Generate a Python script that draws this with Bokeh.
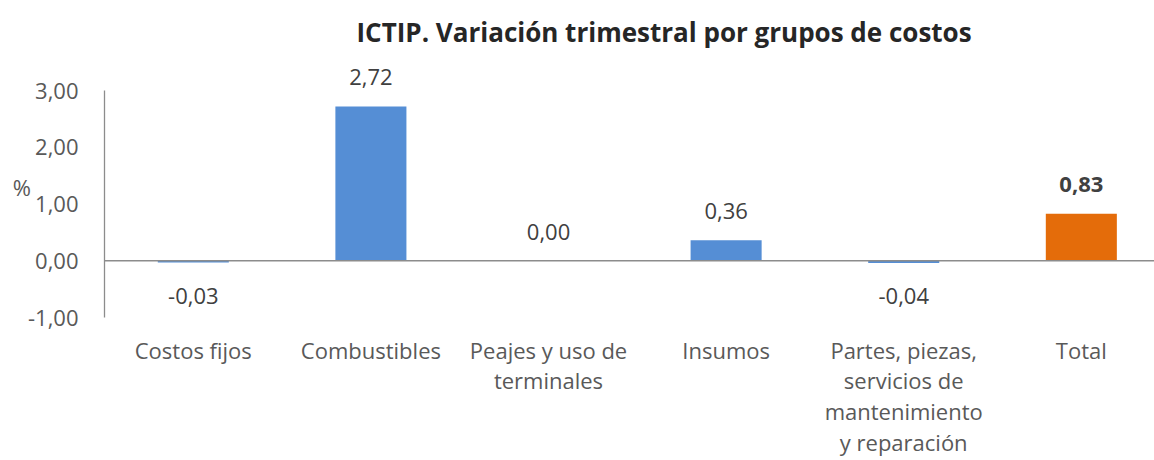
from bokeh.plotting import figure
from bokeh.models import ColumnDataSource, Span, FixedTicker
from bokeh.core.properties import value
from bokeh.embed import file_html
from bokeh.resources import INLINE

categories = ["Costos fijos", "Combustibles", "Peajes y uso de\nterminales", "Insumos",
              "Partes, piezas,\nservicios de\nmantenimiento\ny reparación", "Total"]
values = [-0.03, 2.72, 0.00, 0.36, -0.04, 0.83]
y_ticks = [-1, 0, 1, 2, 3]
y_tick_labels = ["-1,00", "0,00", "1,00", "2,00", "3,00"]

FONT = "Open Sans"
FS = "22px"
BLUE = "#558ED5"
ORANGE = "#E46C0A"

xs = list(range(len(categories)))
colors = [ORANGE if c == "Total" else BLUE for c in categories]
labels = [("%.2f" % v).replace(".", ",") for v in values]
pos = [v >= 0 for v in values]

p = figure(width=1154, height=460, output_backend="svg", toolbar_location=None,
           x_range=(-0.5, 5.412), y_range=(-1, 3.6),
           min_border_left=104, min_border_right=0, min_border_top=56, min_border_bottom=142)
p.outline_line_color = None
p.grid.grid_line_color = None
p.background_fill_color = "white"

p.title.text = "ICTIP. Variación trimestral por grupos de costos"
p.title.text_font = FONT
p.title.text_font_size = "26px"
p.title.text_font_style = "bold"
p.title.text_color = "#262626"
p.title.align = "left"
p.title.offset = 252
p.title.standoff = 13

src = ColumnDataSource(dict(x=xs, top=values, color=colors))
p.vbar(x="x", top="top", bottom=0, width=0.4, fill_color="color", line_color=None, source=src)

p.add_layout(Span(location=0, dimension="width", line_color="#8C8C8C", line_width=1.3))

# data labels
sp = ColumnDataSource(dict(x=[x for x, k in zip(xs, pos) if k],
                           y=[v for v, k in zip(values, pos) if k],
                           t=[l for l, k in zip(labels, pos) if k],
                           st=["bold" if categories[i] == "Total" else "normal" for i, k in zip(xs, pos) if k]))
p.text(x="x", y="y", text="t", source=sp, text_font=value(FONT), text_font_size=FS,
       text_font_style="st", text_color="#404040", text_align="center", text_baseline="middle",
       y_offset=-29)
sn = ColumnDataSource(dict(x=[x for x, k in zip(xs, pos) if not k],
                           y=[v for v, k in zip(values, pos) if not k],
                           t=[l for l, k in zip(labels, pos) if not k]))
p.text(x="x", y=0, text="t", source=sn, text_font=value(FONT), text_font_size=FS,
       text_color="#404040", text_align="center", text_baseline="middle", y_offset=35)

# axes
p.yaxis.ticker = FixedTicker(ticks=y_ticks)
p.yaxis.bounds = (-1, 3)
p.yaxis.major_label_overrides = {t: l for t, l in zip(y_ticks, y_tick_labels)}
p.yaxis.major_tick_line_color = None
p.yaxis.minor_tick_line_color = None
p.yaxis.axis_line_color = "#8C8C8C"
p.yaxis.axis_line_width = 1.3
p.yaxis.major_label_text_font = FONT
p.yaxis.major_label_text_font_size = FS
p.yaxis.major_label_text_color = "#595959"
p.yaxis.major_label_standoff = 20
p.yaxis.axis_label = "%"
p.yaxis.axis_label_orientation = "horizontal"
p.yaxis.axis_label_text_font = FONT
p.yaxis.axis_label_text_font_size = FS
p.yaxis.axis_label_text_font_style = "normal"
p.yaxis.axis_label_text_color = "#595959"
p.yaxis.axis_label_standoff = -6

p.xaxis.ticker = FixedTicker(ticks=xs)
p.xaxis.major_label_overrides = {x: c for x, c in zip(xs, categories)}
p.xaxis.major_tick_line_color = None
p.xaxis.minor_tick_line_color = None
p.xaxis.axis_line_color = None
p.xaxis.major_label_text_font = FONT
p.xaxis.major_label_text_font_size = FS
p.xaxis.major_label_text_color = "#595959"
p.xaxis.major_label_text_line_height = 1.03
p.xaxis.major_label_standoff = 11

open("out.html", "w").write(file_html(p, INLINE))
